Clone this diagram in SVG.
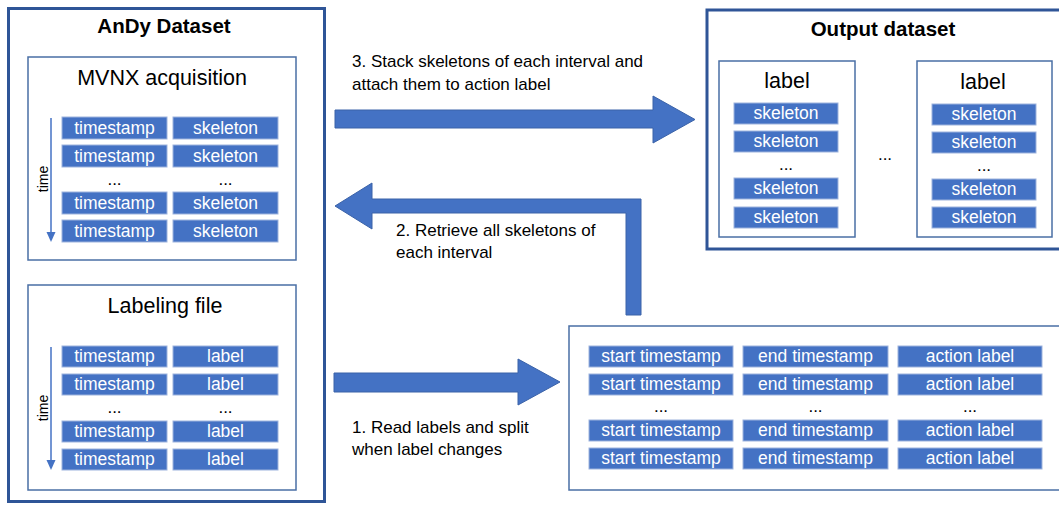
<svg xmlns="http://www.w3.org/2000/svg" width="1059" height="505" viewBox="0 0 1059 505">
<style>
  .outer{fill:#fff;stroke:#2F5597;stroke-width:3}
  .inner{fill:#fff;stroke:#4A6FA5;stroke-width:1.5}
  .cell{fill:#4472C4;stroke:#9DB3DD;stroke-width:1}
  .ct{fill:#fff;font-family:"Liberation Sans",Arial,sans-serif;font-size:17.5px;text-anchor:middle}
  .dots{fill:#000;font-family:"Liberation Sans",Arial,sans-serif;font-size:17px;text-anchor:middle}
  .title{fill:#000;font-family:"Liberation Sans",Arial,sans-serif;font-size:20.5px;font-weight:bold;text-anchor:middle}
  .sub{fill:#000;font-family:"Liberation Sans",Arial,sans-serif;font-size:21.5px;text-anchor:middle}
  .lbl{fill:#000;font-family:"Liberation Sans",Arial,sans-serif;font-size:17px}
  .time{fill:#000;font-family:"Liberation Sans",Arial,sans-serif;font-size:14px;text-anchor:middle}
  .arrow{fill:#4472C4;stroke:#3A62A8;stroke-width:1}
  .tline{stroke:#4472C4;stroke-width:1.5;fill:none}
</style>
<rect width="1059" height="505" fill="#fff"/>

<g id="andy-dataset">
  <rect class="outer" x="8.5" y="8.5" width="316" height="493"/>
  <text class="title" x="164" y="33">AnDy Dataset</text>
</g>

<g id="mvnx-acquisition">
  <rect class="inner" x="28" y="57" width="268" height="203"/>
  <text class="sub" x="162" y="85">MVNX acquisition</text>
  <line class="tline" x1="51" y1="118" x2="51" y2="234"/>
  <path d="M46.5,232 L55.5,232 L51,242 Z" fill="#4472C4"/>
  <text class="time" transform="translate(48,179) rotate(-90)">time</text>
  <rect class="cell" x="62" y="117" width="105" height="22"/><text class="ct" x="114.5" y="134">timestamp</text>
  <rect class="cell" x="173" y="117" width="105" height="22"/><text class="ct" x="225.5" y="134">skeleton</text>
  <rect class="cell" x="62" y="145" width="105" height="22"/><text class="ct" x="114.5" y="162">timestamp</text>
  <rect class="cell" x="173" y="145" width="105" height="22"/><text class="ct" x="225.5" y="162">skeleton</text>
  <text class="dots" x="114.5" y="185">...</text>
  <text class="dots" x="225.5" y="185">...</text>
  <rect class="cell" x="62" y="192" width="105" height="22"/><text class="ct" x="114.5" y="209">timestamp</text>
  <rect class="cell" x="173" y="192" width="105" height="22"/><text class="ct" x="225.5" y="209">skeleton</text>
  <rect class="cell" x="62" y="220" width="105" height="22"/><text class="ct" x="114.5" y="237">timestamp</text>
  <rect class="cell" x="173" y="220" width="105" height="22"/><text class="ct" x="225.5" y="237">skeleton</text>
</g>

<g id="labeling-file">
  <rect class="inner" x="28" y="285" width="268" height="205"/>
  <text class="sub" x="165" y="313">Labeling file</text>
  <line class="tline" x1="51" y1="347" x2="51" y2="462"/>
  <path d="M46.5,460 L55.5,460 L51,470 Z" fill="#4472C4"/>
  <text class="time" transform="translate(48,408) rotate(-90)">time</text>
  <rect class="cell" x="62" y="346" width="105" height="21"/><text class="ct" x="114.5" y="362">timestamp</text>
  <rect class="cell" x="173" y="346" width="105" height="21"/><text class="ct" x="225.5" y="362">label</text>
  <rect class="cell" x="62" y="374" width="105" height="21"/><text class="ct" x="114.5" y="390">timestamp</text>
  <rect class="cell" x="173" y="374" width="105" height="21"/><text class="ct" x="225.5" y="390">label</text>
  <text class="dots" x="114.5" y="413">...</text>
  <text class="dots" x="225.5" y="413">...</text>
  <rect class="cell" x="62" y="421" width="105" height="21"/><text class="ct" x="114.5" y="437">timestamp</text>
  <rect class="cell" x="173" y="421" width="105" height="21"/><text class="ct" x="225.5" y="437">label</text>
  <rect class="cell" x="62" y="449" width="105" height="21"/><text class="ct" x="114.5" y="465">timestamp</text>
  <rect class="cell" x="173" y="449" width="105" height="21"/><text class="ct" x="225.5" y="465">label</text>
</g>

<g id="output-dataset">
  <rect class="outer" x="707" y="10" width="360" height="239"/>
  <text class="title" x="883" y="36">Output dataset</text>
  <text class="dots" x="885" y="160">...</text>
</g>

<g id="label-group-1">
  <rect class="inner" x="719" y="61" width="136" height="176"/>
  <text class="sub" x="787" y="88">label</text>
  <rect class="cell" x="734" y="103" width="104" height="21"/><text class="ct" x="786" y="119">skeleton</text>
  <rect class="cell" x="734" y="131" width="104" height="21"/><text class="ct" x="786" y="147">skeleton</text>
  <text class="dots" x="786" y="170">...</text>
  <rect class="cell" x="734" y="178" width="104" height="21"/><text class="ct" x="786" y="194">skeleton</text>
  <rect class="cell" x="734" y="207" width="104" height="21"/><text class="ct" x="786" y="223">skeleton</text>
</g>

<g id="label-group-2">
  <rect class="inner" x="917" y="61" width="135" height="176"/>
  <text class="sub" x="983" y="89">label</text>
  <rect class="cell" x="932" y="104" width="104" height="21"/><text class="ct" x="984" y="120">skeleton</text>
  <rect class="cell" x="932" y="132" width="104" height="21"/><text class="ct" x="984" y="148">skeleton</text>
  <text class="dots" x="984" y="171">...</text>
  <rect class="cell" x="932" y="179" width="104" height="21"/><text class="ct" x="984" y="195">skeleton</text>
  <rect class="cell" x="932" y="207" width="104" height="21"/><text class="ct" x="984" y="223">skeleton</text>
</g>

<g id="intervals">
  <rect class="inner" x="569" y="326" width="500" height="164"/>
  <rect class="cell" x="589" y="346" width="144" height="21"/><text class="ct" x="661" y="362">start timestamp</text>
  <rect class="cell" x="743" y="346" width="145" height="21"/><text class="ct" x="815.5" y="362">end timestamp</text>
  <rect class="cell" x="898" y="346" width="144" height="21"/><text class="ct" x="970" y="362">action label</text>
  <rect class="cell" x="589" y="374" width="144" height="21"/><text class="ct" x="661" y="390">start timestamp</text>
  <rect class="cell" x="743" y="374" width="145" height="21"/><text class="ct" x="815.5" y="390">end timestamp</text>
  <rect class="cell" x="898" y="374" width="144" height="21"/><text class="ct" x="970" y="390">action label</text>
  <text class="dots" x="661" y="412">...</text>
  <text class="dots" x="815.5" y="412">...</text>
  <text class="dots" x="970" y="412">...</text>
  <rect class="cell" x="589" y="420" width="144" height="21"/><text class="ct" x="661" y="436">start timestamp</text>
  <rect class="cell" x="743" y="420" width="145" height="21"/><text class="ct" x="815.5" y="436">end timestamp</text>
  <rect class="cell" x="898" y="420" width="144" height="21"/><text class="ct" x="970" y="436">action label</text>
  <rect class="cell" x="589" y="448" width="144" height="21"/><text class="ct" x="661" y="464">start timestamp</text>
  <rect class="cell" x="743" y="448" width="145" height="21"/><text class="ct" x="815.5" y="464">end timestamp</text>
  <rect class="cell" x="898" y="448" width="144" height="21"/><text class="ct" x="970" y="464">action label</text>
</g>

<g id="connectors">
  <path class="arrow" d="M335,110 H653 V96 L695,119.5 L653,143 V128 H335 Z"/>
  <path class="arrow" d="M641,315 H626 V213 H372 V229 L335,206 L372,183 V199 H641 Z"/>
  <path class="arrow" d="M334,373 H518 V359 L560,382 L518,405 V392 H334 Z"/>
  <text class="lbl" x="352" y="67">3. Stack skeletons of each interval and</text>
  <text class="lbl" x="352" y="90">attach them to action label</text>
  <text class="lbl" x="396" y="236">2. Retrieve all skeletons of</text>
  <text class="lbl" x="396" y="258">each interval</text>
  <text class="lbl" x="352" y="433">1. Read labels and split</text>
  <text class="lbl" x="352" y="455">when label changes</text>
</g>
</svg>
